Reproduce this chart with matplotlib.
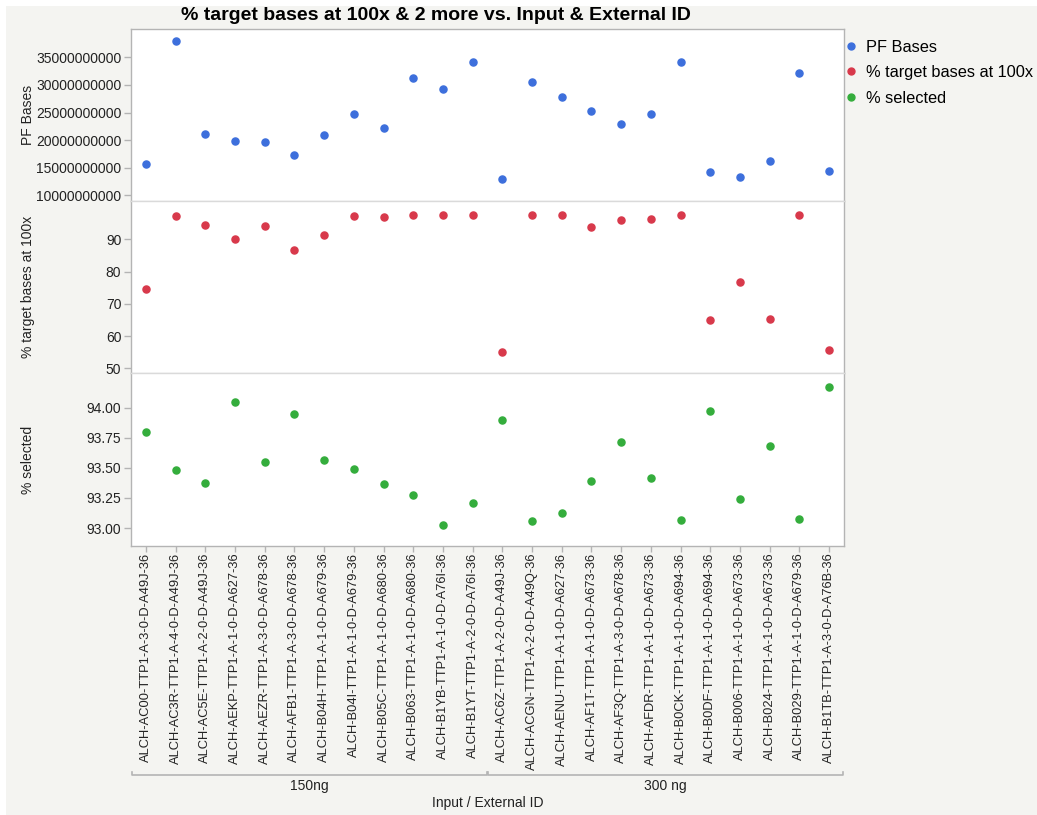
import matplotlib
matplotlib.use("Agg")
import matplotlib.pyplot as plt
from matplotlib.lines import Line2D
from matplotlib.patches import Rectangle
from matplotlib.ticker import FuncFormatter
import matplotlib.transforms as mtransforms

plt.rcParams['font.family'] = ['Liberation Sans', 'DejaVu Sans']

# sample ids (x axis), grouped by input amount
ids = [
    "ALCH-AC00-TTP1-A-3-0-D-A49J-36", "ALCH-AC3R-TTP1-A-4-0-D-A49J-36",
    "ALCH-AC5E-TTP1-A-2-0-D-A49J-36", "ALCH-AEKP-TTP1-A-1-0-D-A627-36",
    "ALCH-AEZR-TTP1-A-3-0-D-A678-36", "ALCH-AFB1-TTP1-A-3-0-D-A678-36",
    "ALCH-B04H-TTP1-A-1-0-D-A679-36", "ALCH-B04I-TTP1-A-1-0-D-A679-36",
    "ALCH-B05C-TTP1-A-1-0-D-A680-36", "ALCH-B063-TTP1-A-1-0-D-A680-36",
    "ALCH-B1YB-TTP1-A-1-0-D-A76I-36", "ALCH-B1YT-TTP1-A-2-0-D-A76I-36",
    "ALCH-AC6Z-TTP1-A-2-0-D-A49J-36", "ALCH-ACGN-TTP1-A-2-0-D-A49Q-36",
    "ALCH-AENU-TTP1-A-1-0-D-A627-36", "ALCH-AF1T-TTP1-A-1-0-D-A673-36",
    "ALCH-AF3Q-TTP1-A-3-0-D-A678-36", "ALCH-AFDR-TTP1-A-1-0-D-A673-36",
    "ALCH-B0CK-TTP1-A-1-0-D-A694-36", "ALCH-B0DF-TTP1-A-1-0-D-A694-36",
    "ALCH-B006-TTP1-A-1-0-D-A673-36", "ALCH-B024-TTP1-A-1-0-D-A673-36",
    "ALCH-B029-TTP1-A-1-0-D-A679-36", "ALCH-B1TB-TTP1-A-3-0-D-A76B-36",
]
groups = ["150ng", "300 ng"]
group_sizes = [12, 12]

pf_bases = [15.7e9, 37.9e9, 21.1e9, 19.8e9, 19.7e9, 17.3e9, 20.9e9, 24.7e9,
            22.2e9, 31.25e9, 29.2e9, 34.1e9, 12.9e9, 30.6e9, 27.8e9, 25.3e9,
            22.9e9, 24.8e9, 34.2e9, 14.2e9, 13.4e9, 16.2e9, 32.1e9, 14.35e9]
pct_100x = [74.7, 97.3, 94.6, 90.1, 94.1, 86.7, 91.3, 97.2, 97.0, 97.6, 97.5, 97.7,
            55.2, 97.6, 97.6, 93.7, 96.1, 96.3, 97.7, 65.0, 76.9, 65.2, 97.6, 55.7]
pct_selected = [93.80, 93.485, 93.377, 94.047, 93.546, 93.948, 93.565, 93.493,
                93.368, 93.272, 93.025, 93.21, 93.895, 93.056, 93.122, 93.39,
                93.715, 93.418, 93.069, 93.973, 93.241, 93.679, 93.071, 94.175]

blue = '#3d6fdc'
red = '#d8394b'
green = '#34ad3c'
frame = '#b4b4b4'

fig = plt.figure(figsize=(10.37, 8.15), dpi=100, facecolor='white')
fig.patches.append(Rectangle((0.006, 0.0), 0.994, 0.993, transform=fig.transFigure,
                             facecolor='#f4f4f1', edgecolor='none', zorder=-10))

left, width = 0.1263, 0.6876
bounds = [(0.7534, 0.2106), (0.5420, 0.2114), (0.3304, 0.2116)]
axes = [fig.add_axes([left, b, width, h]) for b, h in bounds]
ax1, ax2, ax3 = axes
x = list(range(len(ids)))

ax1.scatter(x, pf_bases, s=26, color=blue, zorder=3)
ax2.scatter(x, pct_100x, s=26, color=red, zorder=3)
ax3.scatter(x, pct_selected, s=26, color=green, zorder=3)

ax1.set_ylim(8.97e9, 40.07e9)
ax1.set_yticks([10e9, 15e9, 20e9, 25e9, 30e9, 35e9])
ax1.yaxis.set_major_formatter(FuncFormatter(lambda v, p: f"{v:.0f}"))
ax2.set_ylim(48.45, 101.9)
ax2.set_yticks([50, 60, 70, 80, 90])
ax3.set_ylim(92.853, 94.286)
ax3.set_yticks([93.0, 93.25, 93.5, 93.75, 94.0])
ax3.yaxis.set_major_formatter(FuncFormatter(lambda v, p: f"{v:.2f}"))

for i, ax in enumerate(axes):
    ax.set_xlim(-0.5, len(ids) - 0.5)
    ax.set_facecolor('white')
    for s in ax.spines.values():
        s.set_color(frame)
        s.set_linewidth(1.0)
    if i > 0:
        ax.spines['top'].set_color('#dadada')
    if i < 2:
        ax.spines['bottom'].set_color('#dadada')
        ax.tick_params(axis='x', bottom=False, labelbottom=False)
    ax.tick_params(axis='y', colors='#222222', labelsize=10, length=5, width=1,
                   color=frame, pad=2)
    ax.yaxis.label.set_color('#222222')

ax1.set_ylabel("PF Bases", fontsize=10)
ax2.set_ylabel("% target bases at 100x", fontsize=10)
ax3.set_ylabel("% selected", fontsize=10)
for ax in axes:
    ax.yaxis.set_label_coords(-0.134, 0.5)

ax3.set_xticks(x)
ax3.set_xticklabels(ids, rotation=90, fontsize=9.3, color='#222222')
ax3.tick_params(axis='x', length=4, width=1, color=frame, pad=1)

# group brackets below the tick labels
trans = mtransforms.blended_transform_factory(ax3.transData, fig.transFigure)
start = 0
for g, n in zip(groups, group_sizes):
    x0, x1 = start - 0.48, start + n - 0.52
    y0 = 1 - 775 / 815
    ax3.plot([x0, x0, x1, x1], [y0 + 0.004, y0, y0, y0 + 0.004], transform=trans,
             color=frame, lw=1.2, clip_on=False)
    fig.text((x0 + x1) / 2, 1 - 786 / 815, g, transform=trans, fontsize=10,
             color='#222222', ha='center', va='center')
    start += n

fig.text(left + width / 2, 1 - 803 / 815, "Input / External ID", fontsize=10,
         color='#222222', ha='center', va='center')
fig.text(436 / 1037, 1 - 16 / 815, "% target bases at 100x & 2 more vs. Input & External ID",
         fontsize=14, fontweight='bold', ha='center', va='center')

handles = [Line2D([], [], ls='none', marker='o', ms=5, color=c) for c in (blue, red, green)]
fig.legend(handles, ["PF Bases", "% target bases at 100x", "% selected"],
           loc='upper left', bbox_to_anchor=(838 / 1037, 1 - 33 / 815), frameon=False,
           fontsize=11.8, handlelength=0.8, handletextpad=0.5, labelspacing=0.65,
           borderaxespad=0)

fig.savefig("out.png", dpi=100, facecolor=fig.get_facecolor())
